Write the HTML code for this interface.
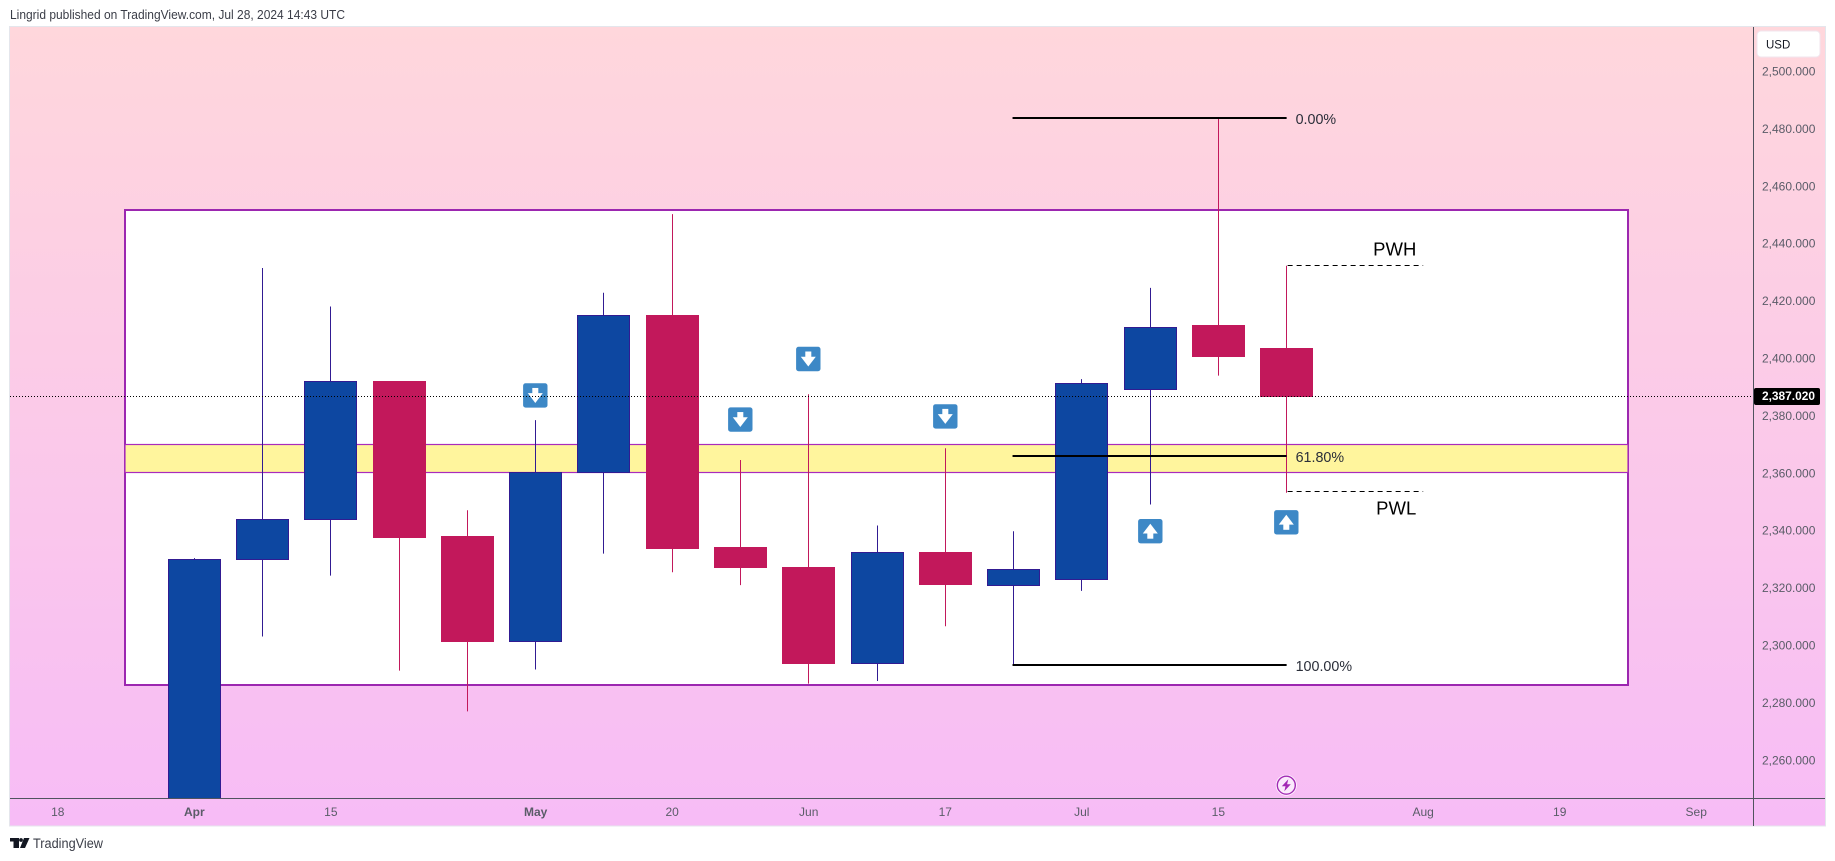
<!DOCTYPE html>
<html lang="en">
<head>
<meta charset="utf-8">
<title>Lingrid weekly chart</title>
<style>
html,body{margin:0;padding:0;background:#fff;width:1835px;height:861px;overflow:hidden}
svg{display:block;font-family:"Liberation Sans",sans-serif}
</style>
</head>
<body>
<svg id="chart" xmlns="http://www.w3.org/2000/svg" width="1835" height="861" viewBox="0 0 1835 861">
  <defs>
    <linearGradient id="bg" x1="0" y1="0" x2="0" y2="1">
      <stop offset="0" stop-color="#ffd7dc"/>
      <stop offset="1" stop-color="#f7bcf6"/>
    </linearGradient>
    <clipPath id="paneClip"><rect x="10" y="27" width="1743" height="771"/></clipPath>
  </defs>
  <text x="10" y="19" font-size="12.5" fill="#3a3d47" textLength="335" lengthAdjust="spacingAndGlyphs">Lingrid published on TradingView.com, Jul 28, 2024 14:43 UTC</text>
  <rect x="9.5" y="26.5" width="1816" height="799.5" fill="url(#bg)" stroke="#e4e6ec" stroke-width="1"/>
  <g id="pane" clip-path="url(#paneClip)"></g>
  <g id="axes"></g>
  <line x1="1753.5" y1="27" x2="1753.5" y2="826" stroke="#50535e" stroke-width="1"/>
  <line x1="10" y1="798.5" x2="1825" y2="798.5" stroke="#50535e" stroke-width="1"/>
  <g>
    <rect x="1757" y="31" width="63" height="26" rx="4" fill="#fff" stroke="#f0e6ee" stroke-width="1"/>
    <text x="1766" y="48.5" font-size="11.5" fill="#131722">USD</text>
  </g>
  <g>
    <rect x="10" y="838" width="9" height="3.5" fill="#131722"/>
    <rect x="13.5" y="838" width="5.5" height="10" fill="#131722"/>
    <circle cx="21" cy="840" r="1.9" fill="#131722"/>
    <polygon points="24,838 29.5,838 25,848 20,848" fill="#131722"/>
    <text x="33" y="848" font-size="13.5" fill="#3a3d47" textLength="70" lengthAdjust="spacingAndGlyphs">TradingView</text>
  </g>
</svg>
<script>
// Weekly bars, starting the week of 1 Apr 2024
const categories = ["Apr 1","Apr 8","Apr 15","Apr 22","Apr 29","May 6","May 13","May 20","May 27","Jun 3","Jun 10","Jun 17","Jun 24","Jul 1","Jul 8","Jul 15","Jul 22"];
const opens  = [2240.0,2330.2,2344.0,2392.2,2338.3,2301.6,2360.4,2415.0,2334.3,2327.3,2293.9,2332.6,2321.2,2323.2,2389.3,2411.7,2403.6];
const highs  = [2330.6,2431.7,2418.3,2392.2,2347.3,2378.7,2423.1,2450.5,2364.8,2387.7,2342.0,2368.9,2340.0,2393.0,2424.8,2483.9,2432.5];
const lows   = [2240.0,2303.3,2324.5,2291.4,2277.2,2291.8,2332.2,2325.7,2321.2,2286.9,2287.8,2306.9,2293.5,2319.2,2349.3,2394.2,2353.4];
const closes = [2330.2,2344.0,2392.2,2337.9,2301.6,2360.4,2415.0,2333.9,2327.3,2293.9,2332.6,2321.6,2326.5,2391.3,2410.9,2400.7,2386.9];

const priceTicks = [2500,2480,2460,2440,2420,2400,2380,2360,2340,2320,2300,2280,2260];
const timeTickLabels = ["18","Apr","15","May","20","Jun","17","Jul","15","Aug","19","Sep"];
const timeTickBars = [-2,0,2,5,7,9,11,13,15,18,20,22];
const timeTickMajor = [false,true,false,true,false,false,false,false,false,false,false,false];

const lastPrice = 2387.02;
const rangeBox = [2451.9,2286.4];
const keyZone = [2370.2,2360.45];
const fibPrices = [2483.9,2366.3,2293.5];
const fibLabels = ["0.00%","61.80%","100.00%"];
const pwLevels = [2432.5,2353.7];
const pwLabels = ["PWH","PWL"];
const markerBars = [5,8,9,11,14,16];
const markerPrices = [2387.3,2378.9,2400.0,2380.0,2340.0,2343.1];
const markerDirs = ["down","down","down","down","up","up"];
const eventBar = 16;
const eventPrice = 2251.5;

const NS = "http://www.w3.org/2000/svg";
const pane = document.getElementById("pane");
const axes = document.getElementById("axes");

function xOf(i){ return 194.3 + i * 68.27; }
function yOf(p){ return 72 + (2500 - p) * 2.87; }
function crisp(v){ return Math.floor(v) + 0.5; }
function fmtPrice(p){ return p.toFixed(3).replace(/\B(?=(\d{3})(?!\d))(?=.*\.)/g, ","); }
function mk(parent, tag, attrs, text){
  const el = document.createElementNS(NS, tag);
  for (const k in attrs) el.setAttribute(k, attrs[k]);
  if (text !== undefined) el.textContent = text;
  parent.appendChild(el);
  return el;
}

// Range box
const boxL = Math.round(xOf(-1)) - 1, boxR = Math.round(xOf(21));
const boxT = Math.round(yOf(rangeBox[0])), boxB = Math.round(yOf(rangeBox[1]));
const box = mk(pane, "rect", {x:boxL, y:boxT, width:boxR-boxL, height:boxB-boxT, fill:"#fff", stroke:"#9c27b0", "stroke-width":2});



// Key zone
const zoneT = crisp(yOf(keyZone[0])), zoneB = crisp(yOf(keyZone[1]));
const zone = mk(pane, "rect", {x:boxL, y:zoneT, width:boxR-boxL, height:zoneB-zoneT, fill:"#fff59d", stroke:"#a92bbd", "stroke-width":1.2});



// Candles
categories.forEach(function(cat, i){
  const up = closes[i] >= opens[i];
  const cx = Math.floor(xOf(i));
  const top = crisp(yOf(Math.max(opens[i], closes[i])));
  const bot = crisp(yOf(Math.min(opens[i], closes[i])));
  const g = mk(pane, "g", {});
  
  
  mk(g, "line", {x1:cx+0.5, x2:cx+0.5, y1:yOf(highs[i]), y2:yOf(lows[i]), stroke: up ? "#311b92" : "#c2185b", "stroke-width":1});
  mk(g, "rect", {x:cx-25.5, y:top, width:52, height:bot-top, fill: up ? "#0d47a1" : "#c2185b", stroke: up ? "#311b92" : "#c2185b", "stroke-width":1});
});

// Fibonacci levels
fibPrices.forEach(function(p, k){
  const ly = Math.round(yOf(p));
  const line = mk(pane, "line", {x1:xOf(12)-1, x2:xOf(16), y1:ly, y2:ly, stroke:"#000", "stroke-width":2});
  
  
  const lab = mk(pane, "text", {x:xOf(16)+9, y:ly+6, "font-size":14.3, fill:"#2a2e39"}, fibLabels[k]);
  
  
});

// Previous week high / low
pwLevels.forEach(function(p, k){
  const ly = crisp(yOf(p));
  const line = mk(pane, "line", {x1:xOf(16)+1, x2:xOf(18), y1:ly, y2:ly, stroke:"#000", "stroke-width":1, "stroke-dasharray":"5 4"});
  
  
  const lab = mk(pane, "text", {x:xOf(18)-(k === 0 ? 50 : 47), y:ly+(k === 0 ? -10 : 23), "font-size":18.5, fill:"#000"}, pwLabels[k]);
  
  
});

// Arrow markers
markerBars.forEach(function(b, k){
  const cx = Math.floor(xOf(b)) + 0.3, cy = yOf(markerPrices[k]);
  const dir = markerDirs[k] === "down" ? 1 : -1;
  const g = mk(pane, "g", {transform:"translate(" + cx + " " + cy + ") scale(1 " + dir + ")"});
  
  
  mk(g, "rect", {x:-12.2, y:-12.2, width:24.4, height:24.4, rx:2.5, fill:"#3d88c6"});
  mk(g, "rect", {x:-3, y:-7.5, width:6, height:6, fill:"#fff"});
  mk(g, "polygon", {points:"-7.5,-2.3 7.5,-2.3 0,7.5", fill:"#fff"});
});

// Event marker
const ev = mk(pane, "g", {transform:"translate(" + (Math.floor(xOf(eventBar)) + 0.3) + " " + yOf(eventPrice) + ")"});


mk(ev, "circle", {r:10.5, fill:"#fff", "fill-opacity":0.9});
mk(ev, "circle", {r:9, fill:"#fbeafc", stroke:"#a32ab5", "stroke-width":1.4});
mk(ev, "polygon", {points:"2,-6 -4.5,1 -0.8,1 -2,6 4.5,-1 0.8,-1", fill:"#a32ab5"});

// Last price line (over the candles)
const priceY = crisp(yOf(lastPrice));
const priceLine = mk(pane, "line", {x1:10, x2:1753, y1:priceY, y2:priceY, stroke:"#000", "stroke-width":1, "stroke-dasharray":"1 2"});



// Price axis
priceTicks.forEach(function(p){
  const t = mk(axes, "text", {x:1762, y:yOf(p)+3.5, "font-size":12, fill:"#5a5c68"}, fmtPrice(p));
  
  
});

// Last price tag
const tagY = yOf(lastPrice);
const tag = mk(axes, "rect", {x:1754, y:Math.round(tagY)-8, width:66, height:17, rx:2, fill:"#000"});


const tagText = mk(axes, "text", {x:1762, y:tagY+3.5, "font-size":12, "font-weight":"bold", fill:"#fff", textLength:"53", lengthAdjust:"spacingAndGlyphs"}, fmtPrice(lastPrice));



// Time axis
timeTickLabels.forEach(function(label, k){
  const t = mk(axes, "text", {x:xOf(timeTickBars[k]), y:816, "font-size":12, "text-anchor":"middle", fill:"#5a5c68", "font-weight":timeTickMajor[k] ? "bold" : "normal"}, label);
  
  
});
</script>
</body>
</html>
